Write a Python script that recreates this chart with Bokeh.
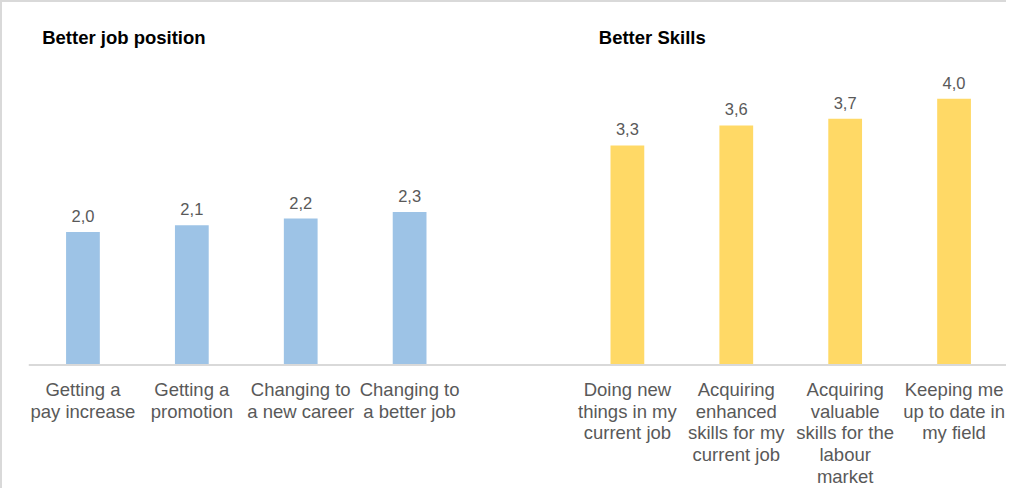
from bokeh.plotting import figure
from bokeh.models import FactorRange, Range1d, Span, ColumnDataSource
from bokeh.core.properties import value
from bokeh.embed import file_html
from bokeh.resources import INLINE

# ---- data ----
groups = ["Better job position", "Better Skills"]
job_labels = ["Getting a\npay increase", "Getting a\npromotion",
              "Changing to\na new career", "Changing to\na better job"]
job_values = [2.0, 2.1, 2.2, 2.3]
skill_labels = ["Doing new\nthings in my\ncurrent job",
                "Acquiring\nenhanced\nskills for my\ncurrent job",
                "Acquiring\nvaluable\nskills for the\nlabour\nmarket",
                "Keeping me\nup to date in\nmy field"]
skill_values = [3.3, 3.6, 3.7, 4.0]

# ---- styles ----
BLUE = "#9DC3E6"
YELLOW = "#FFD966"
GRAY_TEXT = "#595959"
FONT = "Liberation Sans"
Y_START, Y_END = -1.886, 5.447

job_x = [(groups[0], c) for c in job_labels]
skill_x = [(groups[1], c) for c in skill_labels]
factors = job_x + skill_x

x_range = FactorRange(*factors, group_padding=1.0, range_padding=0,
                      factor_padding=0, subgroup_padding=0)

p = figure(width=1006, height=488, x_range=x_range,
           y_range=Range1d(Y_START, Y_END),
           x_axis_location=None, y_axis_location=None,
           output_backend="svg", toolbar_location=None,
           min_border_left=26, min_border_right=0,
           min_border_top=0, min_border_bottom=0)
p.outline_line_color = None
p.xgrid.visible = False
p.ygrid.visible = False
p.styles = {"border-top": "2px solid #D9D9D9", "border-left": "2px solid #D9D9D9"}

job_src = ColumnDataSource(dict(x=job_x, v=job_values, lab=job_labels,
                                vl=[f"{v:.1f}".replace(".", ",") for v in job_values]))
skill_src = ColumnDataSource(dict(x=skill_x, v=skill_values, lab=skill_labels,
                                  vl=[f"{v:.1f}".replace(".", ",") for v in skill_values]))

for src, col in ((job_src, BLUE), (skill_src, YELLOW)):
    p.vbar(x="x", top="v", bottom=0, width=0.31, source=src,
           fill_color=col, line_color=None)
    p.text(x="x", y="v", text="vl", source=src, text_align="center",
           text_baseline="alphabetic", y_offset=-16,
           text_font=value(FONT), text_font_size="16.5px", text_color=GRAY_TEXT)
    p.text(x="x", y=0, text="lab", source=src, text_align="center",
           text_baseline="top", y_offset=14, text_line_height=1.035,
           text_font=value(FONT), text_font_size="18.5px", text_color=GRAY_TEXT)

# baseline (category axis line)
p.add_layout(Span(location=0, dimension="width", line_color="#D9D9D9", line_width=2))

# group titles
p.text(x=[job_x[0]], y=[Y_END], text=[groups[0]], x_offset=-40.75, y_offset=35,
       text_align="left", text_baseline="alphabetic",
       text_font=value(FONT), text_font_size="18.5px", text_font_style="bold",
       text_color="#000000")
p.text(x=[skill_x[0]], y=[Y_END], text=[groups[1]], x_offset=-28.6, y_offset=35,
       text_align="left", text_baseline="alphabetic",
       text_font=value(FONT), text_font_size="18.5px", text_font_style="bold",
       text_color="#000000")

open("out.html", "w").write(file_html(p, INLINE))
